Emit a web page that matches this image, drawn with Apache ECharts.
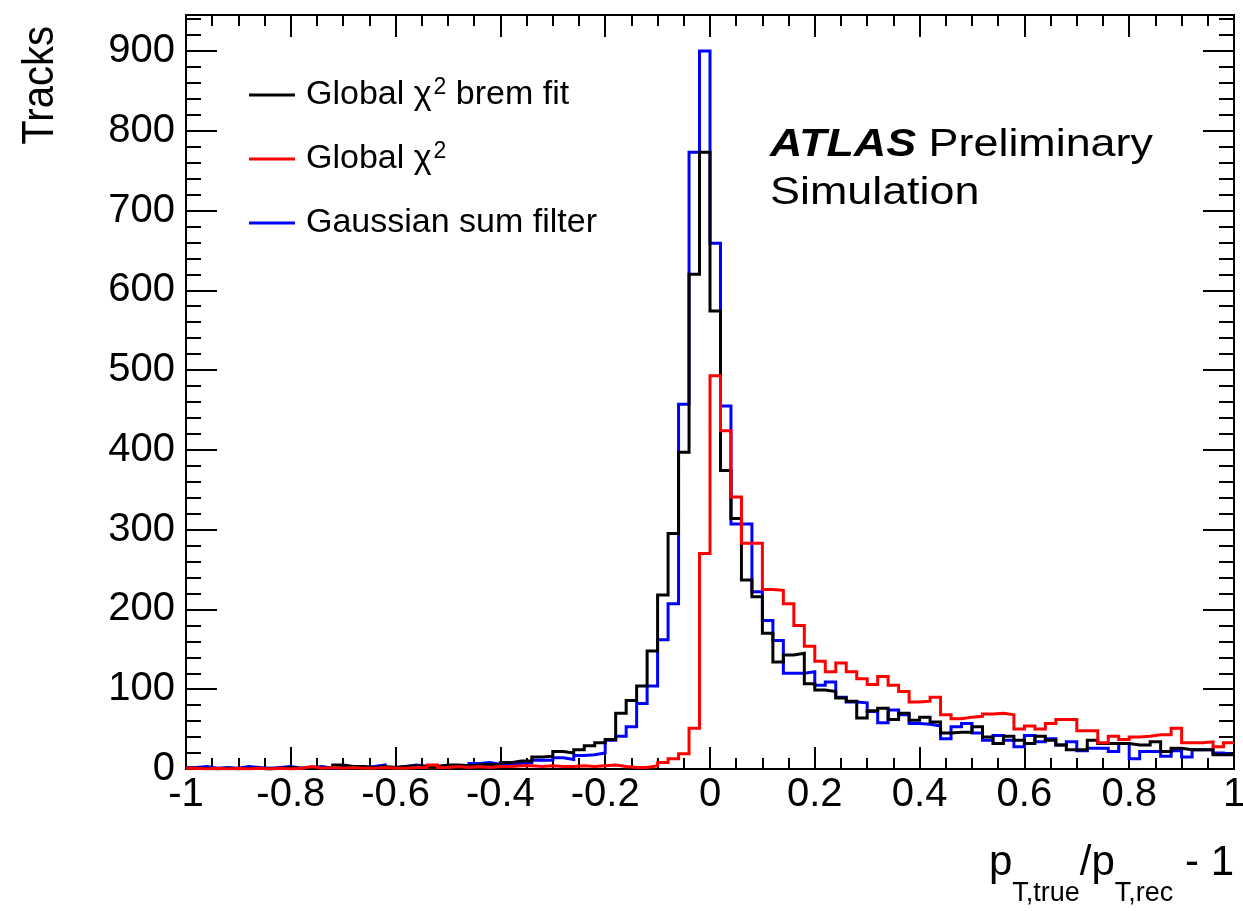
<!DOCTYPE html>
<html><head><meta charset="utf-8">
<script src="https://cdn.jsdelivr.net/npm/echarts@6/dist/echarts.min.js"></script>
<style>html,body{margin:0;padding:0;background:#fff}#c{width:1243px;height:911px}</style>
</head><body><div id="c"></div>
<script>
// Histogram binning: 100 bins of width 0.02 from -1 to 1
const xMin = -1, xMax = 1, binWidth = 0.02;
const seriesNames = ['Global χ² brem fit', 'Global χ²', 'Gaussian sum filter'];

// Global chi2 brem fit (black)
const chi2Brem = [
  1,1,0,1,0,1,1,0,1,2,
  1,2,1,2,5,3,3,2,3,2,
  3,4,3,3,5,5,4,5,6,5,
  8,10,10,15,16,22,20,24,29,33,
  37,70,86,104,148,218,295,397,620,773,
  574,374,314,237,216,170,134,143,145,107,
  99,97,89,85,64,73,76,62,70,61,
  65,59,45,46,46,53,40,32,41,36,
  32,41,36,30,24,24,36,32,32,32,
  30,30,34,22,26,24,24,24,18,18
];
// Global chi2 (red)
const chi2 = [
  1,0,1,0,1,0,1,0,1,0,
  1,3,1,2,1,2,1,1,2,1,
  1,2,2,5,2,3,2,3,2,3,
  3,4,4,3,4,3,3,4,3,4,
  5,3,2,2,4,8,13,19,51,270,
  493,424,341,283,283,225,224,207,180,154,
  135,122,133,122,113,106,116,105,97,84,
  85,90,68,63,65,66,69,70,68,50,
  54,50,57,62,62,48,48,33,41,37,
  40,41,43,43,51,33,33,34,28,33
];
// Gaussian sum filter (blue)
const gsf = [
  2,3,1,2,1,3,2,1,2,3,
  1,2,3,1,2,3,2,3,5,2,
  3,5,3,3,4,3,4,7,8,6,
  6,7,8,11,11,14,12,17,18,20,
  36,41,53,82,104,162,207,457,773,900,
  659,455,307,307,222,186,161,120,120,122,
  105,109,90,84,83,72,58,74,68,57,
  56,54,38,53,57,45,36,42,36,28,
  42,34,38,30,34,23,26,26,22,32,
  13,22,22,16,23,15,24,24,20,18
];

const yMax = 945, yMajor = 100, yMinor = 20, xMajor = 0.2;
const FONT = "'Liberation Sans', Arial, Helvetica, sans-serif";

function stepData(vals) {
  const d = vals.map((v, i) => [xMin + i * binWidth, v]);
  d.push([xMax, vals[vals.length - 1]]);
  return d;
}

const chart = echarts.init(document.getElementById('c'), null, {renderer: 'canvas'});

const tickStyle = {color: '#000', width: 2};
function xAx(pos, labels) {
  return {
    type: 'value', min: xMin, max: xMax, interval: xMajor, position: pos,
    axisLine: {show: true, onZero: false, lineStyle: tickStyle},
    axisTick: {show: true, inside: true, length: 22, lineStyle: tickStyle},
    minorTick: {show: true, splitNumber: 4, length: 11, lineStyle: tickStyle},
    splitLine: {show: false}, minorSplitLine: {show: false},
    axisLabel: {show: labels, fontSize: 40, color: '#000', fontFamily: FONT, margin: 6,
      formatter: v => String(Math.round(v * 10) / 10)}
  };
}
function yAx(pos, interval, len, labels, line) {
  return {
    type: 'value', min: 0, max: yMax, interval: interval, position: pos, offset: 0,
    axisLine: {show: line, onZero: false, lineStyle: tickStyle},
    axisTick: {show: true, inside: true, length: len, lineStyle: tickStyle},
    splitLine: {show: false},
    axisLabel: {show: labels, fontSize: 40, color: '#000', fontFamily: FONT, margin: 11,
      formatter: v => (v % yMajor === 0 ? String(v) : '')}
  };
}

const colors = {black: '#000000', red: '#ff0000', blue: '#0000ff'};
function histSeries(name, vals, color) {
  return {
    name: name, type: 'line', step: 'end', data: stepData(vals),
    xAxisIndex: 0, yAxisIndex: 0,
    showSymbol: false, symbol: 'none', silent: true,
    lineStyle: {color: color, width: 3, join: 'miter'},
    itemStyle: {color: color},
    emphasis: {disabled: true}, animation: false
  };
}

const legendBase = (name, top) => ({
  data: [name], left: 249, top: top, orient: 'vertical', padding: 0, itemGap: 0,
  icon: 'rect', itemWidth: 46, itemHeight: 3, selectedMode: false,
  textStyle: {fontSize: 34, fontFamily: FONT, color: '#000', lineHeight: 40, padding: [0, 0, 0, 6],
    rich: {sup: {fontSize: 23, fontFamily: FONT, color: '#000', verticalAlign: 'top', padding: [1, 0, 0, 2]}}},
  formatter: n => n.replace('²', '{sup|2}')
});

chart.setOption({
  animation: false,
  backgroundColor: '#fff',
  grid: {left: 186, right: 9, top: 15, bottom: 142, containLabel: false, outerBoundsMode: 'none'},
  xAxis: [xAx('bottom', true), xAx('top', false)],
  yAxis: [
    yAx('left', yMajor, 31, true, true),
    yAx('right', yMajor, 31, false, true),
    yAx('left', yMinor, 15, false, false),
    yAx('right', yMinor, 15, false, false)
  ],
  legend: [
    legendBase(seriesNames[0], 75),
    legendBase(seriesNames[1], 139),
    legendBase(seriesNames[2], 203)
  ],
  series: [
    histSeries(seriesNames[2], gsf, colors.blue),
    histSeries(seriesNames[0], chi2Brem, colors.black),
    histSeries(seriesNames[1], chi2, colors.red)
  ],
  graphic: [
    {type: 'text', x: 41, y: 26, rotation: Math.PI / 2, scaleX: 0.91,
      style: {text: 'Tracks', fontSize: 44, fontFamily: FONT, fill: '#000', align: 'right', verticalAlign: 'middle'}},
    {type: 'text', x: 770, y: 145, scaleX: 1.15,
      style: {text: '{a|ATLAS} Preliminary', fontSize: 39, fontFamily: FONT, fill: '#000', verticalAlign: 'middle',
        rich: {a: {fontSize: 39, fontFamily: FONT, fontWeight: 'bold', fontStyle: 'italic', fill: '#000'}}}},
    {type: 'text', x: 770, y: 193, scaleX: 1.15,
      style: {text: 'Simulation', fontSize: 39, fontFamily: FONT, fill: '#000', verticalAlign: 'middle'}},
    {type: 'text', x: 1234, y: 842,
      style: {text: '{m|p}{s|T,true}{m|/p}{s|T,rec}{m| - 1}', align: 'right', verticalAlign: 'top',
        fontFamily: FONT, fill: '#000',
        rich: {
          m: {fontSize: 42, fontFamily: FONT, lineHeight: 44, verticalAlign: 'top', fill: '#000'},
          s: {fontSize: 27, fontFamily: FONT, lineHeight: 27, verticalAlign: 'top', padding: [38, 0, 0, 0], fill: '#000'}
        }}}
  ]
});
</script></body></html>
